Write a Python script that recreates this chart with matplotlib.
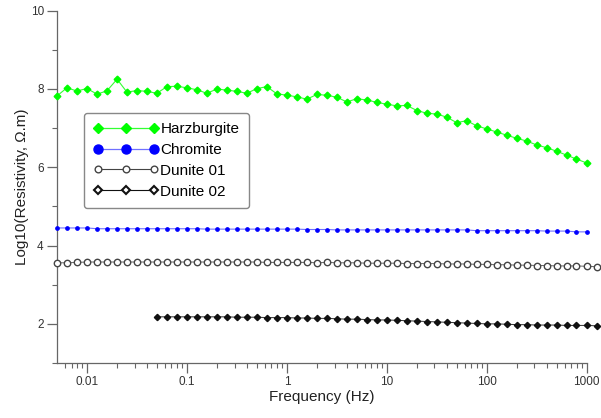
import matplotlib.pyplot as plt
from matplotlib.lines import Line2D

plt.rcParams['font.family'] = ['Liberation Sans', 'DejaVu Sans']

# frequencies (Hz), 10 points per decade
freq = [0.005, 0.0063, 0.0079, 0.01, 0.0126, 0.0158, 0.02, 0.0251, 0.0316, 0.0398,
        0.05, 0.063, 0.079, 0.1, 0.126, 0.158, 0.2, 0.251, 0.316, 0.398,
        0.5, 0.63, 0.79, 1, 1.26, 1.58, 2, 2.51, 3.16, 3.98,
        5, 6.3, 7.9, 10, 12.6, 15.8, 20, 25.1, 31.6, 39.8,
        50, 63, 79, 100, 126, 158, 200, 251, 316, 398,
        500, 630, 790, 1000, 1260]

harzburgite = [7.82, 8.03, 7.95, 8.01, 7.87, 7.95, 8.25, 7.92, 7.96, 7.94,
               7.89, 8.06, 8.07, 8.03, 7.98, 7.89, 8.00, 7.97, 7.94, 7.89,
               8.01, 8.06, 7.88, 7.84, 7.80, 7.74, 7.86, 7.84, 7.79, 7.67,
               7.75, 7.72, 7.66, 7.61, 7.57, 7.58, 7.45, 7.38, 7.36, 7.28,
               7.14, 7.19, 7.06, 6.98, 6.90, 6.82, 6.74, 6.67, 6.57, 6.50,
               6.41, 6.31, 6.21, 6.11]

chromite = [4.45, 4.45, 4.45, 4.45, 4.43, 4.43, 4.43, 4.43, 4.43, 4.43,
            4.43, 4.43, 4.43, 4.43, 4.43, 4.42, 4.42, 4.42, 4.42, 4.42,
            4.42, 4.42, 4.42, 4.42, 4.42, 4.41, 4.41, 4.41, 4.40, 4.40,
            4.40, 4.40, 4.40, 4.40, 4.40, 4.40, 4.40, 4.40, 4.40, 4.40,
            4.40, 4.40, 4.38, 4.38, 4.38, 4.38, 4.38, 4.38, 4.38, 4.37,
            4.37, 4.37, 4.35, 4.35]

dunite01 = [3.56, 3.56, 3.57, 3.58, 3.58, 3.58, 3.58, 3.58, 3.58, 3.58,
            3.58, 3.58, 3.58, 3.58, 3.58, 3.58, 3.58, 3.58, 3.58, 3.58,
            3.58, 3.57, 3.57, 3.57, 3.57, 3.57, 3.56, 3.57, 3.56, 3.56,
            3.56, 3.55, 3.55, 3.55, 3.55, 3.54, 3.54, 3.54, 3.54, 3.53,
            3.53, 3.53, 3.52, 3.52, 3.51, 3.51, 3.50, 3.50, 3.49, 3.49,
            3.48, 3.48, 3.48, 3.47, 3.46]

dunite02 = [2.18, 2.18, 2.18, 2.18, 2.18, 2.18, 2.18, 2.18, 2.17, 2.17,
            2.17, 2.16, 2.16, 2.16, 2.15, 2.15, 2.14, 2.14, 2.13, 2.12,
            2.12, 2.11, 2.10, 2.10, 2.09, 2.08, 2.07, 2.06, 2.05, 2.04,
            2.03, 2.02, 2.01, 2.00, 2.00, 1.99, 1.98, 1.98, 1.97, 1.97,
            1.97, 1.96, 1.96, 1.96, 1.95]

fig = plt.figure(figsize=(6.01, 4.18), dpi=100)
ax = fig.add_axes([57 / 601, 55 / 418, 529.7 / 601, 352.3 / 418])

ax.plot(freq[:54], harzburgite, color='#33ff33', lw=0.8, marker='D',
        ms=3.4, mfc='#00ff00', mec='#00ff00', clip_on=False, zorder=3)
ax.plot(freq[:54], chromite, color='#7070ff', lw=0.8, marker='o',
        ms=2.4, mfc='#0000ff', mec='#0000ff', clip_on=False, zorder=3)
ax.plot(freq, dunite01, color='#666666', lw=0.7, marker='o',
        ms=4.6, mfc='white', mec='#444444', mew=1.0, clip_on=False, zorder=3)
ax.plot(freq[10:], dunite02, color='#333333', lw=0.7, marker='D',
        ms=3.2, mfc='#111111', mec='#111111', clip_on=False, zorder=3)

ax.set_xscale('log')
ax.set_xlim(10 ** -2.3, 1000)
ax.set_ylim(1, 10)
ax.set_xticks([0.01, 0.1, 1, 10, 100, 1000])
ax.set_xticklabels(['0.01', '0.1', '1', '10', '100', '1000'])
ax.set_yticks([2, 4, 6, 8, 10])
ax.set_yticks([1, 3, 5, 7, 9], minor=True)

for s in ['top', 'right']:
    ax.spines[s].set_visible(False)
for s in ['left', 'bottom']:
    ax.spines[s].set_color('#666666')
    ax.spines[s].set_linewidth(0.9)

ax.tick_params(which='major', direction='out', length=7.5, width=0.9,
               color='#666666', labelsize=8.5, labelcolor='#333333', pad=2)
ax.tick_params(which='minor', direction='out', length=3.5, width=0.8,
               color='#666666')

ax.set_xlabel('Frequency (Hz)', fontsize=11, color='#222222', labelpad=1)
ax.set_ylabel('Log10(Resistivity, Ω.m)', fontsize=11, color='#222222',
              labelpad=1)

handles = [
    Line2D([], [], color='#33ff33', lw=0.9, marker='D', ms=5,
           mfc='#00ff00', mec='#00ff00'),
    Line2D([], [], color='#7070ff', lw=0.9, marker='o', ms=6.5,
           mfc='#0000ff', mec='#0000ff'),
    Line2D([], [], color='#444444', lw=0.8, marker='o', ms=4.8,
           mfc='white', mec='#444444'),
    Line2D([], [], color='#111111', lw=0.8, marker='D', ms=4,
           mfc='white', mec='#111111', mew=1.5),
]
leg = ax.legend(handles, ['Harzburgite', 'Chromite', 'Dunite 01', 'Dunite 02'],
                loc='upper left', bbox_to_anchor=(0.051, 0.71),
                borderaxespad=0, numpoints=3, handlelength=4.3,
                handletextpad=0.1, labelspacing=0.45, fontsize=11,
                fancybox=True, framealpha=1, borderpad=0.6)
leg.get_frame().set_edgecolor('#888888')
leg.get_frame().set_linewidth(1.0)

plt.savefig('out.png', dpi=100)
